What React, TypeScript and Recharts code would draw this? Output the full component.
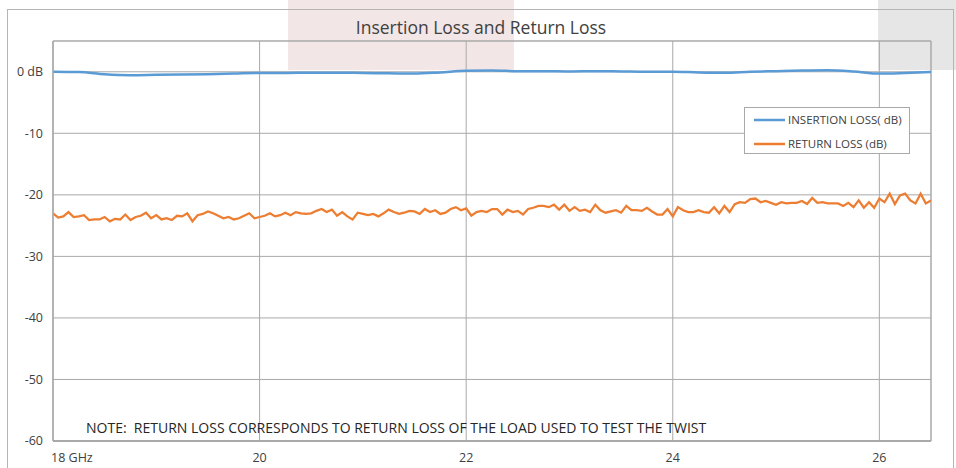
import React from 'react';
import { LineChart, Line, XAxis, YAxis, CartesianGrid, ReferenceLine } from 'recharts';

const TITLE = 'Insertion Loss and Return Loss';
const NOTE = 'NOTE:  RETURN LOSS CORRESPONDS TO RETURN LOSS OF THE LOAD USED TO TEST THE TWIST';
const SERIES_NAMES = ['INSERTION LOSS( dB)', 'RETURN LOSS (dB)'];
const X_TICKS = [18, 20, 22, 24, 26];
const X_TICK_LABELS = ['18 GHz', '20', '22', '24', '26'];
const Y_TICKS = [0, -10, -20, -30, -40, -50, -60];
const Y_TICK_LABELS = ['0 dB', '-10', '-20', '-30', '-40', '-50', '-60'];

const IL_FREQ = [18, 18.25, 18.5, 18.75, 19, 19.25, 19.5, 19.75, 20, 20.25, 20.5, 20.75, 21, 21.25, 21.5, 21.75, 22, 22.25, 22.5, 22.75, 23, 23.25, 23.5, 23.75, 24, 24.25, 24.5, 24.75, 25, 25.25, 25.5, 25.75, 26, 26.25, 26.5];
const IL_VALUES = [0.0, -0.05, -0.4, -0.55, -0.5, -0.45, -0.4, -0.3, -0.2, -0.2, -0.15, -0.15, -0.2, -0.25, -0.3, -0.1, 0.15, 0.2, 0.1, 0.1, 0.05, 0.1, 0.05, 0.0, 0.0, -0.1, -0.15, 0.0, 0.1, 0.2, 0.25, 0.05, -0.3, -0.2, -0.05];

const RL_START = 18;
const RL_STEP = 0.05;
const RL_VALUES = [
  -23.0, -23.7, -23.5, -22.8, -23.6, -23.5, -23.3, -24.1, -24.0, -24.0,
  -23.6, -24.3, -23.9, -24.0, -23.2, -24.1, -23.6, -23.4, -22.9, -23.8,
  -23.3, -24.0, -23.8, -24.1, -23.4, -23.5, -23.0, -24.3, -23.3, -23.1,
  -22.7, -23.0, -23.4, -23.8, -23.6, -24.0, -23.8, -23.4, -23.0, -23.8,
  -23.6, -23.4, -23.0, -23.5, -23.3, -22.9, -23.3, -22.8, -23.0, -23.1,
  -23.0, -22.6, -22.3, -22.8, -22.4, -23.4, -22.8, -23.5, -24.0, -22.9,
  -23.1, -23.3, -23.1, -23.5, -23.0, -22.4, -22.8, -23.1, -22.9, -22.6,
  -22.7, -23.1, -22.3, -22.8, -22.5, -23.1, -22.9, -22.3, -22.0, -22.5,
  -22.2, -23.4, -22.8, -22.6, -22.8, -22.3, -22.3, -23.2, -22.4, -22.8,
  -22.6, -23.2, -22.3, -22.1, -21.8, -21.8, -22.0, -21.6, -22.4, -21.6,
  -22.6, -22.0, -22.6, -22.4, -22.8, -21.6, -22.5, -22.9, -22.7, -22.5,
  -22.9, -21.8, -22.5, -22.5, -22.6, -22.1, -22.7, -23.2, -23.2, -22.3,
  -23.5, -22.0, -22.5, -22.8, -22.8, -22.5, -22.8, -22.9, -22.0, -23.0,
  -21.8, -22.8, -21.5, -21.2, -21.3, -20.7, -20.6, -21.2, -21.0, -21.3,
  -21.6, -21.2, -21.4, -21.3, -21.3, -21.0, -21.5, -20.5, -21.3, -21.2,
  -21.4, -21.4, -21.4, -21.8, -21.3, -22.0, -20.9, -22.1, -21.2, -22.1,
  -20.6, -21.2, -19.8, -21.5, -20.1, -19.8, -20.9, -21.4, -19.8, -21.4,
  -20.9,
];

const ilData = IL_FREQ.map((f, i) => ({ f, v: IL_VALUES[i] }));
const rlData = RL_VALUES.map((v, i) => ({ f: +(RL_START + i * RL_STEP).toFixed(2), v }));

const FONT = '"Open Sans", sans-serif';
const GRID = '#a9a9a9';
const BLUE = '#5b9bd5';
const ORANGE = '#ed7d31';
const TEXT = '#404040';

const YTick = (props: any) => {
  const { x, y, payload } = props;
  const idx = Y_TICKS.indexOf(payload.value);
  return (
    <text x={x} y={y} dy="0.35em" textAnchor="end" fontFamily={FONT} fontSize={12.5} fill={TEXT}>
      {Y_TICK_LABELS[idx]}
    </text>
  );
};

const XTick = (props: any) => {
  const { x, y, payload, index } = props;
  const idx = X_TICKS.indexOf(payload.value);
  return (
    <text
      x={index === 0 ? x - 2 : x}
      y={y}
      dy="0.35em"
      textAnchor={index === 0 ? 'start' : 'middle'}
      fontFamily={FONT}
      fontSize={12.5}
      fill={TEXT}
    >
      {X_TICK_LABELS[idx]}
    </text>
  );
};

const LegendBox = () => (
  <div
    style={{
      position: 'absolute',
      left: 744,
      top: 107,
      width: 166,
      height: 47,
      boxSizing: 'border-box',
      border: `1px solid ${GRID}`,
      background: '#fff',
      fontFamily: FONT,
      fontSize: 11.5,
      color: TEXT,
    }}
  >
    {SERIES_NAMES.map((name, i) => (
      <div key={name} style={{ display: 'flex', alignItems: 'center', height: 23, marginTop: i === 0 ? 0 : 1 }}>
        <svg width={32} height={4} style={{ marginLeft: 9, marginRight: 2 }}>
          <line x1={0} y1={2} x2={31} y2={2} stroke={i === 0 ? BLUE : ORANGE} strokeWidth={2.5} />
        </svg>
        <span style={{ whiteSpace: 'nowrap' }}>{name}</span>
      </div>
    ))}
  </div>
);

export default function App() {
  return (
    <div style={{ position: 'absolute', left: 0, top: 0, width: 956, height: 468, overflow: 'hidden', background: '#fff' }}>
      <div style={{ position: 'absolute', left: 288, top: 0, width: 226, height: 70, background: '#f3e6e6' }} />
      <div style={{ position: 'absolute', left: 878, top: 0, width: 78, height: 70, background: '#e6e6e6' }} />
      <div
        style={{
          position: 'absolute',
          left: 7,
          top: 9,
          width: 947,
          height: 480,
          boxSizing: 'border-box',
          border: '1px solid #b5b5b5',
        }}
      />
      <div style={{ position: 'absolute', left: 0, top: 0 }}>
        <LineChart
          width={956}
          height={468}
          margin={{ top: 41, right: 25, left: 8, bottom: 2 }}
          style={{ background: 'transparent' }}
        >
          <CartesianGrid stroke={GRID} strokeWidth={1} />
          <XAxis
            type="number"
            dataKey="f"
            domain={[18, 26.5]}
            ticks={X_TICKS}
            height={25}
            tickLine={false}
            tickSize={0}
            tickMargin={17}
            axisLine={{ stroke: GRID, strokeWidth: 2 }}
            tick={<XTick />}
            allowDataOverflow
          />
          <YAxis
            type="number"
            domain={[-60, 5]}
            ticks={Y_TICKS}
            width={45}
            tickLine={false}
            tickSize={0}
            tickMargin={10}
            axisLine={{ stroke: GRID, strokeWidth: 1.5 }}
            tick={<YTick />}
            allowDataOverflow
          />
          <ReferenceLine y={5} stroke={GRID} strokeWidth={1} ifOverflow="visible" />
          <ReferenceLine x={26.5} stroke={GRID} strokeWidth={1} ifOverflow="visible" />
          <Line
            data={ilData}
            dataKey="v"
            name={SERIES_NAMES[0]}
            type="monotone"
            stroke={BLUE}
            strokeWidth={2.5}
            dot={false}
            isAnimationActive={false}
          />
          <Line
            data={rlData}
            dataKey="v"
            name={SERIES_NAMES[1]}
            type="linear"
            stroke={ORANGE}
            strokeWidth={2.25}
            dot={false}
            isAnimationActive={false}
          />
        </LineChart>
      </div>
      <LegendBox />
      <div
        style={{
          position: 'absolute',
          left: 231,
          top: 15,
          width: 500,
          height: 24,
          lineHeight: '24px',
          textAlign: 'center',
          fontFamily: FONT,
          fontSize: 17.5,
          color: TEXT,
        }}
      >
        {TITLE}
      </div>
      <div
        style={{
          position: 'absolute',
          left: 86,
          top: 418,
          height: 20,
          lineHeight: '20px',
          whiteSpace: 'pre',
          fontFamily: FONT,
          fontSize: 14,
          color: '#262626',
        }}
      >
        {NOTE}
      </div>
    </div>
  );
}
